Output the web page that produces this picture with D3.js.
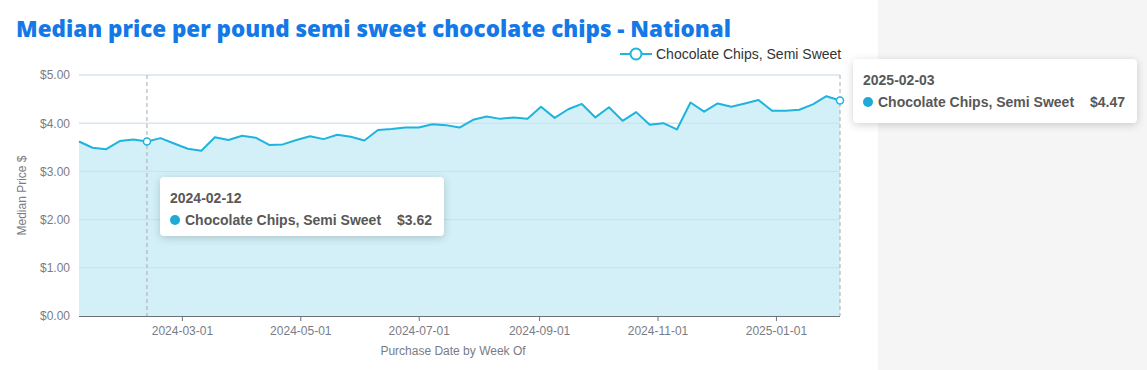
<!DOCTYPE html>
<html>
<head>
<meta charset="utf-8">
<script src="https://cdn.jsdelivr.net/npm/d3@7"></script>
<style>
  body { margin: 0; background: #fff; font-family: "Liberation Sans", Arial, sans-serif; }
  #chart { position: relative; width: 1147px; height: 370px; overflow: hidden; }
  .tip {
    position: absolute; background: #fff; border-radius: 4px;
    box-shadow: 0 2px 8px rgba(0,0,0,0.18);
    color: #585858; font-weight: bold; font-size: 14px; box-sizing: border-box;
    padding: 12px 12px 0 10px;
  }
  .tip .date { line-height: 18px; margin-bottom: 4px; }
  .tip .row { display: flex; align-items: center; line-height: 18px; }
  .tip .dot { width: 10px; height: 10px; border-radius: 50%; background: #1fa9d6; margin-right: 5px; }
  .tip .val { margin-left: auto; }
</style>
</head>
<body>
<div id="chart"></div>
<script>
// weekly median price per pound
const dates = [
  '2024-01-08','2024-01-15','2024-01-22','2024-01-29','2024-02-05','2024-02-12','2024-02-19','2024-02-26',
  '2024-03-04','2024-03-11','2024-03-18','2024-03-25','2024-04-01','2024-04-08','2024-04-15','2024-04-22',
  '2024-04-29','2024-05-06','2024-05-13','2024-05-20','2024-05-27','2024-06-03','2024-06-10','2024-06-17',
  '2024-06-24','2024-07-01','2024-07-08','2024-07-15','2024-07-22','2024-07-29','2024-08-05','2024-08-12',
  '2024-08-19','2024-08-26','2024-09-02','2024-09-09','2024-09-16','2024-09-23','2024-09-30','2024-10-07',
  '2024-10-14','2024-10-21','2024-10-28','2024-11-04','2024-11-11','2024-11-18','2024-11-25','2024-12-02',
  '2024-12-09','2024-12-16','2024-12-23','2024-12-30','2025-01-06','2025-01-13','2025-01-20','2025-01-27',
  '2025-02-03'
];
const prices = [
  3.62, 3.49, 3.46, 3.63, 3.66, 3.62, 3.69, 3.58,
  3.47, 3.43, 3.71, 3.65, 3.74, 3.70, 3.55, 3.56,
  3.65, 3.73, 3.67, 3.76, 3.72, 3.64, 3.86, 3.88,
  3.91, 3.91, 3.98, 3.96, 3.91, 4.07, 4.14, 4.09,
  4.12, 4.09, 4.34, 4.11, 4.29, 4.40, 4.12, 4.33,
  4.05, 4.23, 3.97, 4.00, 3.87, 4.43, 4.24, 4.41,
  4.34, 4.41, 4.48, 4.26, 4.26, 4.28, 4.39, 4.56,
  4.47
];
const yTicks = [0, 1, 2, 3, 4, 5];
const xTicks = ['2024-03-01','2024-05-01','2024-07-01','2024-09-01','2024-11-01','2025-01-01'];
const seriesName = 'Chocolate Chips, Semi Sweet';
const highlighted = ['2024-02-12', '2025-02-03'];

const parse = d3.timeParse('%Y-%m-%d');
const data = dates.map((d, i) => ({ date: parse(d), key: d, value: prices[i] }));

const width = 1147, height = 370;
const mLeft = 79, mRight = 840, mTop = 75, mBottom = 316;
const lineColor = '#1eb4de';

const chart = d3.select('#chart');
const svg = chart.append('svg').attr('width', width).attr('height', height);

// right side panel
svg.append('rect').attr('x', 878).attr('y', 0).attr('width', width - 878).attr('height', height).attr('fill', '#f5f5f5');

svg.append('text')
  .attr('x', 16).attr('y', 37)
  .attr('fill', '#1479e6')
  .attr('font-family', '"Open Sans", Inter, sans-serif')
  .attr('font-weight', 800)
  .attr('font-size', 22)
  .attr('textLength', 715)
  .attr('lengthAdjust', 'spacingAndGlyphs')
  .text('Median price per pound semi sweet chocolate chips - National');

const x = d3.scaleTime().domain(d3.extent(data, d => d.date)).range([mLeft, mRight]);
const y = d3.scaleLinear().domain([0, 5]).range([mBottom, mTop]);

// grid
svg.append('g').selectAll('line').data(yTicks.filter(t => t > 0)).join('line')
  .attr('x1', mLeft).attr('x2', mRight)
  .attr('y1', d => y(d)).attr('y2', d => y(d))
  .attr('stroke', '#e0e6f1');

// area + line
svg.append('path').datum(data)
  .attr('fill', '#d3f0f8')
  .attr('d', d3.area().x(d => x(d.date)).y0(y(0)).y1(d => y(d.value)));

// grid lines show faintly through the area
svg.append('g').selectAll('line').data(yTicks.filter(t => t > 0)).join('line')
  .attr('x1', mLeft).attr('x2', mRight)
  .attr('y1', d => y(d)).attr('y2', d => y(d))
  .attr('stroke', '#b9d9ef').attr('stroke-opacity', 0.6);

svg.append('path').datum(data)
  .attr('fill', 'none').attr('stroke', lineColor).attr('stroke-width', 2)
  .attr('stroke-linejoin', 'round')
  .attr('d', d3.line().x(d => x(d.date)).y(d => y(d.value)));

// y axis labels
const yAxis = svg.append('g').attr('transform', `translate(${mLeft},0)`)
  .call(d3.axisLeft(y).tickValues(yTicks).tickSize(0).tickPadding(9).tickFormat(d => '$' + d.toFixed(2)));
yAxis.select('.domain').remove();
yAxis.selectAll('text').attr('fill', '#7a7c85').attr('font-size', 12).attr('font-family', 'Liberation Sans, Arial, sans-serif');

// x axis
const xAxis = svg.append('g').attr('transform', `translate(0,${mBottom})`)
  .call(d3.axisBottom(x).tickValues(xTicks.map(parse)).tickSize(5).tickPadding(5).tickFormat(d3.timeFormat('%Y-%m-%d')));
xAxis.select('.domain').attr('stroke', '#6e7079').attr('d', `M${mLeft},0.5H${mRight}`);
xAxis.selectAll('.tick line').attr('stroke', '#6e7079');
xAxis.selectAll('text').attr('fill', '#7a7c85').attr('font-size', 12).attr('font-family', 'Liberation Sans, Arial, sans-serif');

svg.append('text').attr('x', 453).attr('y', 355).attr('text-anchor', 'middle')
  .attr('fill', '#7a7c85').attr('font-size', 12).text('Purchase Date by Week Of');
svg.append('text').attr('transform', `translate(26,${(mTop + mBottom) / 2}) rotate(-90)`)
  .attr('text-anchor', 'middle').attr('fill', '#7a7c85').attr('font-size', 12).text('Median Price $');

// legend
const lg = svg.append('g').attr('transform', 'translate(620,54)');
lg.append('line').attr('x1', 0).attr('x2', 32).attr('stroke', lineColor).attr('stroke-width', 2);
lg.append('circle').attr('cx', 16).attr('r', 5.5).attr('fill', '#fff').attr('stroke', lineColor).attr('stroke-width', 2);
lg.append('text').attr('x', 36).attr('y', 5).attr('fill', '#333').attr('font-size', 14).text(seriesName);

// hover guides and tooltips
const hi = data.filter(d => highlighted.includes(d.key));
svg.append('g').selectAll('line').data(hi).join('line')
  .attr('x1', d => x(d.date)).attr('x2', d => x(d.date))
  .attr('y1', mTop).attr('y2', mBottom)
  .attr('stroke', '#aaa').attr('stroke-dasharray', '4,3');
svg.append('g').selectAll('circle').data(hi).join('circle')
  .attr('cx', d => x(d.date)).attr('cy', d => y(d.value)).attr('r', 3.5)
  .attr('fill', '#fff').attr('stroke', lineColor).attr('stroke-width', 1.5);

const tipPos = [{ left: 160, top: 177 }, { left: 853, top: 59 }];
hi.forEach((d, i) => {
  const t = chart.append('div').attr('class', 'tip')
    .style('left', tipPos[i].left + 'px').style('top', tipPos[i].top + 'px')
    .style('width', '284px').style('height', (i ? 64 : 59) + 'px');
  t.append('div').attr('class', 'date').text(d.key);
  const r = t.append('div').attr('class', 'row');
  r.append('span').attr('class', 'dot');
  r.append('span').text(seriesName);
  r.append('span').attr('class', 'val').text('$' + d.value.toFixed(2));
});
</script>
</body>
</html>
